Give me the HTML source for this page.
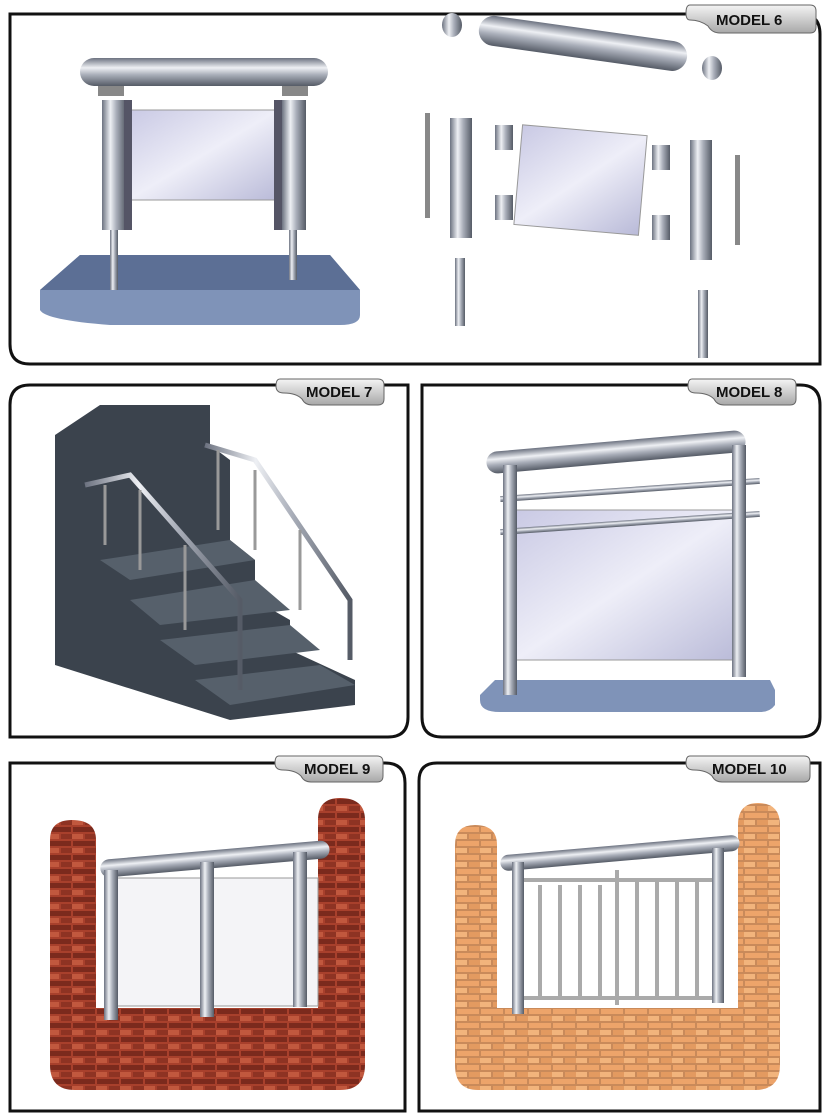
<!DOCTYPE html>
<html><head><meta charset="utf-8"><style>
body{margin:0;background:#fff;}
svg{display:block}
text{font-family:"Liberation Sans",sans-serif;font-weight:bold;}
</style></head><body>
<svg width="833" height="1120" viewBox="0 0 833 1120" xmlns="http://www.w3.org/2000/svg">
<defs>
<linearGradient id="metal" x1="0" x2="1" y1="0" y2="0"><stop offset="0" stop-color="#6c7280"/><stop offset=".35" stop-color="#eef0f4"/><stop offset=".6" stop-color="#a9aeb9"/><stop offset="1" stop-color="#555b66"/></linearGradient>
<linearGradient id="metalh" x1="0" x2="0" y1="0" y2="1"><stop offset="0" stop-color="#6c7280"/><stop offset=".35" stop-color="#eef0f4"/><stop offset=".6" stop-color="#a9aeb9"/><stop offset="1" stop-color="#555b66"/></linearGradient>
<linearGradient id="glass" x1="0" x2="1" y1="0" y2="1"><stop offset="0" stop-color="#c9c9e4"/><stop offset=".5" stop-color="#eeeef8"/><stop offset="1" stop-color="#b9bad8"/></linearGradient>
<linearGradient id="tab" x1="0" x2="0" y1="0" y2="1"><stop offset="0" stop-color="#f4f4f4"/><stop offset="1" stop-color="#a8a8a8"/></linearGradient>
<pattern id="brick" width="24" height="14" patternUnits="userSpaceOnUse"><rect width="24" height="14" fill="#a8402c"/><rect x="1" y="1" width="22" height="5" fill="#7b2a1d"/><rect x="-11" y="8" width="22" height="5" fill="#c1583e"/><rect x="13" y="8" width="22" height="5" fill="#8e3323"/></pattern>
<pattern id="brick2" width="24" height="14" patternUnits="userSpaceOnUse"><rect width="24" height="14" fill="#c98a5a"/><rect x="1" y="1" width="22" height="5" fill="#eda46a"/><rect x="-11" y="8" width="22" height="5" fill="#f2b47c"/><rect x="13" y="8" width="22" height="5" fill="#e39a60"/></pattern>
</defs>
<g fill="none" stroke="#111" stroke-width="3">
<path d="M10 14 H800 Q820 14 820 34 V364 H30 Q10 364 10 344 Z"/>
<path d="M30 385 H408 V717 Q408 737 388 737 H10 V405 Q10 385 30 385 Z"/>
<path d="M422 385 H800 Q820 385 820 405 V717 Q820 737 800 737 H442 Q422 737 422 717 Z"/>
<path d="M10 763 H385 Q405 763 405 783 V1111 H10 Z"/>
<path d="M437 763 H820 V1111 H419 V781 Q419 763 437 763 Z"/>
</g>
<g stroke="#666" stroke-width="1" fill="url(#tab)">
<path d="M690 5 H810 Q816 5 816 11 V27 Q816 33 810 33 H720 Q712 33 708 26 Q700 20 690 20 Q686 20 686 13 Q686 5 690 5Z"/>
<path d="M280 379 H378 Q384 379 384 385 V399 Q384 405 378 405 H312 Q305 405 302 399 Q296 393 284 393 Q276 393 276 386 Q276 379 280 379Z"/>
<path d="M692 379 H790 Q796 379 796 385 V399 Q796 405 790 405 H724 Q717 405 714 399 Q708 393 696 393 Q688 393 688 386 Q688 379 692 379Z"/>
<path d="M279 756 H377 Q383 756 383 762 V776 Q383 782 377 782 H311 Q304 782 301 776 Q295 770 283 770 Q275 770 275 763 Q275 756 279 756Z"/>
<path d="M690 756 H804 Q810 756 810 762 V776 Q810 782 804 782 H722 Q715 782 712 776 Q706 770 694 770 Q686 770 686 763 Q686 756 690 756Z"/>
</g>
<g font-size="15" fill="#111">
<text x="716" y="25">MODEL 6</text>
<text x="306" y="397">MODEL 7</text>
<text x="716" y="397">MODEL 8</text>
<text x="304" y="774">MODEL 9</text>
<text x="712" y="774">MODEL 10</text>
</g>
<!-- Model 6 assembled -->
<path d="M40 290 L80 255 H330 L360 290 V315 Q360 325 340 325 H110 Q45 320 40 310Z" fill="#7f93b8"/>
<path d="M40 290 L80 255 H330 L360 290Z" fill="#5c6f95"/>
<rect x="80" y="58" width="248" height="28" rx="14" fill="url(#metalh)"/>
<rect x="128" y="110" width="150" height="90" fill="url(#glass)" stroke="#999"/>
<rect x="98" y="86" width="26" height="10" fill="#888"/><rect x="282" y="86" width="26" height="10" fill="#888"/>
<rect x="102" y="100" width="24" height="130" fill="url(#metal)"/>
<rect x="282" y="100" width="24" height="130" fill="url(#metal)"/>
<rect x="124" y="100" width="8" height="130" fill="#556"/><rect x="274" y="100" width="8" height="130" fill="#556"/>
<rect x="110" y="230" width="8" height="60" fill="url(#metal)"/>
<rect x="289" y="230" width="8" height="50" fill="url(#metal)"/>
<!-- Model 6 exploded -->
<rect x="478" y="28" width="210" height="30" rx="15" fill="url(#metalh)" transform="rotate(8 580 43)"/>
<rect x="518" y="130" width="125" height="100" fill="url(#glass)" stroke="#999" transform="rotate(5 580 180)"/>
<rect x="450" y="118" width="22" height="120" fill="url(#metal)"/>
<rect x="690" y="140" width="22" height="120" fill="url(#metal)"/>
<rect x="455" y="258" width="10" height="68" fill="url(#metal)"/>
<rect x="698" y="290" width="10" height="68" fill="url(#metal)"/>
<rect x="425" y="113" width="5" height="105" fill="#888"/>
<rect x="735" y="155" width="5" height="90" fill="#888"/>
<rect x="495" y="125" width="18" height="25" fill="url(#metal)"/><rect x="495" y="195" width="18" height="25" fill="url(#metal)"/>
<rect x="652" y="145" width="18" height="25" fill="url(#metal)"/><rect x="652" y="215" width="18" height="25" fill="url(#metal)"/>
<ellipse cx="452" cy="25" rx="10" ry="12" fill="url(#metal)"/><ellipse cx="712" cy="68" rx="10" ry="12" fill="url(#metal)"/>
<!-- Model 7 stairs -->
<path d="M55 435 L100 405 H210 V445 L230 460 V540 L255 560 V600 L290 620 V650 L355 680 V705 L230 720 L55 665Z" fill="#3b434d"/>
<g fill="#56606b"><path d="M100 560 L230 540 L255 560 L130 580Z"/><path d="M130 600 L255 580 L290 610 L160 625Z"/><path d="M160 640 L290 625 L320 650 L195 665Z"/><path d="M195 680 L320 665 L355 685 L230 705Z"/></g>
<g stroke="url(#metal)" stroke-width="5" fill="none"><path d="M85 485 L130 475 L240 600 V690"/><path d="M205 445 L255 460 L350 600 V660"/></g>
<g stroke="#999" stroke-width="3"><line x1="105" y1="485" x2="105" y2="545"/><line x1="140" y1="490" x2="140" y2="570"/><line x1="185" y1="545" x2="185" y2="630"/><line x1="218" y1="450" x2="218" y2="530"/><line x1="255" y1="470" x2="255" y2="550"/><line x1="300" y1="530" x2="300" y2="610"/></g>
<!-- Model 8 -->
<path d="M480 695 L495 680 H770 L775 690 V705 Q770 712 760 712 H500 Q480 712 480 700Z" fill="#7f93b8"/>
<rect x="486" y="441" width="260" height="22" rx="11" fill="url(#metalh)" transform="rotate(-5 616 452)"/>
<rect x="515" y="510" width="225" height="150" fill="url(#glass)" stroke="#999"/>
<g fill="url(#metalh)"><rect x="500" y="487" width="260" height="6" transform="rotate(-4 630 490)"/><rect x="500" y="520" width="260" height="6" transform="rotate(-4 630 523)"/></g>
<rect x="503" y="465" width="14" height="230" fill="url(#metal)"/>
<rect x="732" y="445" width="14" height="232" fill="url(#metal)"/>
<!-- Model 9 -->
<path d="M50 840 Q50 820 72 820 Q96 820 96 840 V1008 H318 V820 Q318 798 340 798 Q365 798 365 820 V1065 Q365 1090 340 1090 H75 Q50 1090 50 1065Z" fill="url(#brick)"/>
<rect x="100" y="850" width="230" height="18" rx="9" fill="url(#metalh)" transform="rotate(-5 215 860)"/>
<rect x="110" y="878" width="208" height="128" fill="#eaeaf0" fill-opacity=".5" stroke="#999"/>
<g fill="url(#metal)"><rect x="104" y="870" width="14" height="150"/><rect x="200" y="862" width="14" height="155"/><rect x="293" y="852" width="14" height="155"/></g>
<!-- Model 10 -->
<path d="M455 845 Q455 825 475 825 Q497 825 497 845 V1008 H738 V825 Q738 803 758 803 Q780 803 780 825 V1065 Q780 1090 755 1090 H478 Q455 1090 455 1065Z" fill="url(#brick2)"/>
<rect x="500" y="845" width="240" height="16" rx="8" fill="url(#metalh)" transform="rotate(-5 620 853)"/>
<g fill="none" stroke="#aaa" stroke-width="4"><rect x="517" y="880" width="200" height="118"/><line x1="617" y1="870" x2="617" y2="1005"/><line x1="540" y1="885" x2="540" y2="998"/><line x1="560" y1="885" x2="560" y2="998"/><line x1="580" y1="885" x2="580" y2="998"/><line x1="600" y1="885" x2="600" y2="998"/><line x1="637" y1="880" x2="637" y2="998"/><line x1="657" y1="880" x2="657" y2="998"/><line x1="677" y1="880" x2="677" y2="998"/><line x1="697" y1="880" x2="697" y2="998"/></g>
<g fill="url(#metal)"><rect x="512" y="862" width="12" height="152"/><rect x="712" y="848" width="12" height="155"/></g>
</svg>
</body></html>
